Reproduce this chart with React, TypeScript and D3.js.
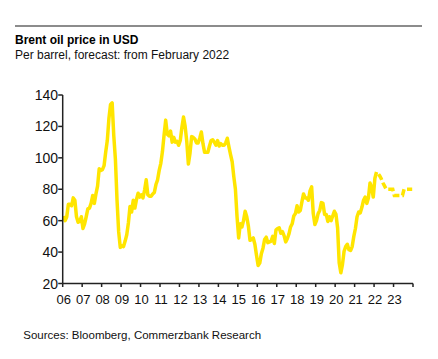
import React from "react";
import * as d3 from "d3";

const startYear = 2006;
// Monthly Brent prices (USD/bbl), Jan 2006 – Feb 2022
const prices2006 = [63, 60, 62.5, 70.5, 70.5, 69.5, 74.5, 73, 62.5, 59, 59.5, 62.5];
const prices2007 = [55, 58, 62.5, 67.5, 68, 71, 76, 71, 77, 82, 93, 92];
const prices2008 = [92.5, 95, 103.5, 111, 125, 134, 135, 114, 99, 73, 53, 43];
const prices2009 = [44, 43.5, 47, 51, 58.5, 69, 65.5, 73, 68, 73.5, 77.5, 75];
const prices2010 = [76.5, 74.5, 79.5, 86, 76.5, 75.5, 75.5, 77, 78, 83, 86, 92];
const prices2011 = [96.5, 104, 114.5, 124, 115, 114, 117, 110, 113, 110, 110.5, 108];
const prices2012 = [111, 119.5, 126, 120, 110.5, 96, 103, 113.5, 113, 112, 109.5, 109.5];
const prices2013 = [112.5, 116.5, 109, 103.5, 103.5, 103.5, 107.5, 111, 111.5, 110, 108, 111];
const prices2014 = [107.5, 109, 108, 108, 109.5, 112.5, 107, 102, 97.5, 88, 80, 62.5];
const prices2015 = [49, 58, 56, 60, 66, 62.5, 56.5, 47.5, 48, 49, 45, 38];
const prices2016 = [31.5, 33, 39, 42.5, 48, 49.5, 46, 46.5, 47, 50, 45.5, 54];
const prices2017 = [55, 55.5, 52, 53, 50.5, 46.5, 48.5, 51.5, 56, 58, 63, 64.5];
const prices2018 = [69.5, 65.5, 66.5, 72, 77, 74.5, 74.5, 73, 79, 81.5, 64.5, 57.5];
const prices2019 = [60, 64.5, 66.5, 71.5, 71, 64, 64, 59.5, 62.5, 60, 63, 66];
const prices2020 = [64, 55.5, 33, 26.8, 32, 40.5, 43.5, 45, 41.5, 41, 43.5, 50];
const prices2021 = [55, 62.5, 65.5, 65, 68.5, 73, 75, 71, 74.5, 84, 81, 75];
const prices2022 = [87, 91];

const actualPrices = [
  ...prices2006, ...prices2007, ...prices2008, ...prices2009, ...prices2010,
  ...prices2011, ...prices2012, ...prices2013, ...prices2014, ...prices2015,
  ...prices2016, ...prices2017, ...prices2018, ...prices2019, ...prices2020,
  ...prices2021, ...prices2022,
];

// Forecast, monthly from Feb 2022 to Dec 2023
const forecastStartIndex = 16 * 12 + 1; // Feb 2022
const forecastPrices = [
  91, 90, 88.5, 86.5, 84, 82, 80, 80, 80, 80, 80,
  76, 76, 76, 76, 76, 76, 80, 80, 80, 80, 80, 80,
];

const xTickLabels = ["06", "07", "08", "09", "10", "11", "12", "13", "14", "15", "16", "17", "18", "19", "20", "21", "22", "23"];
const yTicks = [20, 40, 60, 80, 100, 120, 140];

const title = "Brent oil price in USD";
const subtitle = "Per barrel, forecast: from February 2022";
const source = "Sources: Bloomberg, Commerzbank Research";

const W = 438;
const H = 359;
const FONT = "'Liberation Sans', Arial, Helvetica, sans-serif";
const YELLOW = "#FFE500";

export default function App() {
  const x = d3.scaleLinear().domain([2006, 2024]).range([62.7, 413]);
  const y = d3.scaleLinear().domain([20, 140]).range([283.5, 95]);
  const t = (i: number) => startYear + (i + 0.5) / 12;

  const line = d3
    .line<number>()
    .x((_, i) => x(t(i)))
    .y((d) => y(d))
    .curve(d3.curveLinear);

  const fLine = d3
    .line<number>()
    .x((_, i) => x(t(i + forecastStartIndex)))
    .y((d) => y(d));

  const xTicks = d3.range(2006, 2025);

  return (
    <svg
      width={W}
      height={H}
      style={{ position: "absolute", left: 0, top: 0, background: "#fff" }}
      fontFamily={FONT}
    >
      <rect x={0} y={0} width={W} height={H} fill="#fff" />
      <line x1={15} x2={422} y1={26} y2={26} stroke="#8c8c8c" strokeWidth={2} />
      <text x={15} y={44.3} fontSize={12} fontWeight="bold" fill="#000">
        {title}
      </text>
      <text x={15} y={59} fontSize={12} fill="#111">
        {subtitle}
      </text>

      {/* data */}
      <path d={line(actualPrices) || ""} fill="none" stroke={YELLOW} strokeWidth={3.5} strokeLinejoin="round" />
      <path
        d={fLine(forecastPrices) || ""}
        fill="none"
        stroke={YELLOW}
        strokeWidth={3.5}
        strokeDasharray="6.5,3"
        strokeDashoffset={6.5}
      />

      {/* y axis */}
      <line x1={x(2006)} x2={x(2006)} y1={y(140)} y2={y(20)} stroke="#222" strokeWidth={1.5} />
      {yTicks.map((v) => (
        <g key={v}>
          <line x1={x(2006) - 4.5} x2={x(2006)} y1={y(v)} y2={y(v)} stroke="#222" strokeWidth={1.5} />
          <text x={58} y={y(v)} dy="0.36em" fontSize={14} textAnchor="end" fill="#111">
            {v}
          </text>
        </g>
      ))}

      {/* x axis */}
      <line x1={x(2006)} x2={x(2024)} y1={y(20)} y2={y(20)} stroke="#222" strokeWidth={1.5} />
      {xTicks.map((yr) => (
        <line key={yr} x1={x(yr)} x2={x(yr)} y1={y(20)} y2={y(20) + 3.5} stroke="#222" strokeWidth={1.5} />
      ))}
      {xTickLabels.map((lbl, i) => (
        <text key={lbl} x={x(2006 + i) + 1} y={304} fontSize={13} textAnchor="middle" fill="#111">
          {lbl}
        </text>
      ))}

      <text x={23.3} y={339.3} fontSize={11.5} fill="#111">
        {source}
      </text>
    </svg>
  );
}
